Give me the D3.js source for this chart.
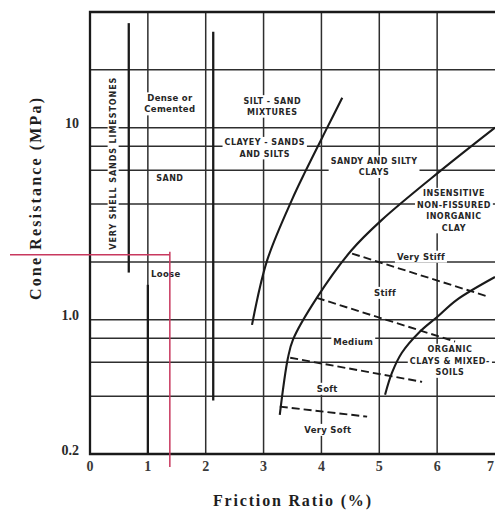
<!DOCTYPE html>
<html>
<head>
<meta charset="utf-8">
<script src="https://cdn.jsdelivr.net/npm/d3@7"></script>
<style>
  html, body { margin: 0; padding: 0; background: #fff; }
  svg { display: block; }
</style>
</head>
<body>
<svg id="chart" width="495" height="512"></svg>
<script>
// ---- data -------------------------------------------------------------
const xTicks = [0, 1, 2, 3, 4, 5, 6, 7];
const yTickLabels = [
  { v: 10, t: "10" },
  { v: 1, t: "1.0" },
  { v: 0.2, t: "0.2" }
];
const gridQc = [0.4, 0.6, 0.8, 1, 2, 4, 6, 8, 10, 20];
const gridRf = [1, 2, 3, 4, 5, 6];

// soil-type boundaries: [friction ratio %, cone resistance MPa]
const sandBoundary = [[2.80, 0.94], [3.06, 2.03], [3.49, 4.21], [3.72, 5.9], [4.10, 10], [4.36, 14.3]];
const clayBoundary = [[7.0, 10.0], [6.04, 5.9], [5.04, 3.3], [4.52, 2.3], [3.92, 1.30], [3.51, 0.79], [3.42, 0.63], [3.28, 0.32]];
const organicBoundary = [[7.0, 1.67], [6.34, 1.27], [6.01, 1.04], [5.70, 0.866], [5.39, 0.673], [5.22, 0.530], [5.10, 0.407]];

// consistency breaks inside the clay zone (dashed)
const consistencyBreaks = [
  [[4.53, 2.21], [6.88, 1.32]],
  [[3.92, 1.30], [6.31, 0.77]],
  [[3.46, 0.634], [5.74, 0.475]],
  [[3.28, 0.353], [4.79, 0.313]]
];

// vertical zone dividers: friction ratio, qc range
const verticalBoundaries = [
  { rf: 0.67, lo: 1.76, hi: 35 },
  { rf: 1.0, lo: 0.2, hi: 1.52 },
  { rf: 2.13, lo: 0.38, hi: 31.6 }
];

const zoneLabels = [
  { rf: 1.38, qc: 13.3, lines: ["Dense or", "Cemented"], caps: false },
  { rf: 1.38, qc: 5.5, lines: ["SAND"], caps: true },
  { rf: 1.31, qc: 1.72, lines: ["Loose"], caps: false },
  { rf: 3.15, qc: 12.9, lines: ["SILT - SAND", "MIXTURES"], caps: true },
  { rf: 3.02, qc: 7.82, lines: ["CLAYEY - SANDS", "AND SILTS"], caps: true },
  { rf: 4.91, qc: 6.26, lines: ["SANDY AND SILTY", "CLAYS"], caps: true },
  { rf: 6.29, qc: 3.70, lines: ["INSENSITIVE", "NON-FISSURED", "INORGANIC", "CLAY"], caps: true },
  { rf: 5.72, qc: 2.13, lines: ["Very Stiff"], caps: false },
  { rf: 5.10, qc: 1.38, lines: ["Stiff"], caps: false },
  { rf: 4.55, qc: 0.768, lines: ["Medium"], caps: false },
  { rf: 6.22, qc: 0.611, lines: ["ORGANIC", "CLAYS & MIXED-", "SOILS"], caps: true },
  { rf: 4.10, qc: 0.437, lines: ["Soft"], caps: false },
  { rf: 4.11, qc: 0.267, lines: ["Very Soft"], caps: false }
];
const verticalLabel = { rf: 0.40, qc: 6.49, text: "VERY SHELL SANDS LIMESTONES" };

// reading marked on the chart
const readout = { rf: 1.38, qc: 2.18 };

// ---- layout -----------------------------------------------------------
const svg = d3.select("#chart");
const x = d3.scaleLinear().domain([0, 7]).range([90, 495]);
const y = d3.scaleLog().domain([0.2, 40]).range([454, 12]);
const ink = "#1a1a1a";
const labelInk = "#262626";

const plot = svg.append("g");

// grid
plot.append("g").selectAll("line").data(gridQc).join("line")
  .attr("x1", x(0)).attr("x2", x(7))
  .attr("y1", d => y(d)).attr("y2", d => y(d))
  .attr("stroke", "#2e2e2e").attr("stroke-width", 1.5);
plot.append("g").selectAll("line").data(gridRf).join("line")
  .attr("x1", d => x(d)).attr("x2", d => x(d))
  .attr("y1", y(0.2)).attr("y2", y(40))
  .attr("stroke", "#2e2e2e").attr("stroke-width", 1.5);

// frame
plot.append("path")
  .attr("d", `M${x(7)},${y(40)}H${x(0)}V${y(0.2)}H${x(7)}`)
  .attr("fill", "none").attr("stroke", ink).attr("stroke-width", 2.3);

// zone labels, each on a white patch so the grid breaks behind the lettering
const labelG = plot.append("g");
function knockOut(textSel, pad) {
  const b = textSel.node().getBBox();
  labelG.insert("rect", () => textSel.node())
    .attr("x", b.x - pad).attr("y", b.y + 1 - pad)
    .attr("width", b.width + 2 * pad).attr("height", b.height - 2 + 2 * pad)
    .attr("transform", textSel.attr("transform"))
    .attr("fill", "#fff");
}
zoneLabels.forEach(L => {
  const lh = L.caps ? 11.5 : 11;
  const n = L.lines.length;
  const t = labelG.append("text")
    .attr("text-anchor", "middle")
    .attr("font-family", "'DejaVu Sans', sans-serif")
    .attr("font-weight", "bold")
    .attr("font-size", L.caps ? 8 : 8.5)
    .attr("letter-spacing", L.caps ? 0.5 : 0.3)
    .attr("fill", labelInk)
    .attr("dominant-baseline", "central");
  L.lines.forEach((s, i) => {
    t.append("tspan")
      .attr("x", x(L.rf))
      .attr("y", y(L.qc) + (i - (n - 1) / 2) * lh)
      .text(s);
  });
  knockOut(t, 2);
});
const vt = labelG.append("text")
  .attr("transform", `translate(${x(verticalLabel.rf)},${y(verticalLabel.qc)}) rotate(-90)`)
  .attr("text-anchor", "middle").attr("dominant-baseline", "central")
  .attr("font-family", "'DejaVu Sans', sans-serif")
  .attr("font-weight", "bold").attr("font-size", 8)
  .attr("textLength", 172).attr("lengthAdjust", "spacing")
  .attr("fill", labelInk)
  .text(verticalLabel.text);
knockOut(vt, 2);

// boundaries
const line = d3.line().x(d => x(d[0])).y(d => y(d[1])).curve(d3.curveCatmullRom.alpha(0.5));
[sandBoundary, clayBoundary, organicBoundary].forEach(c => {
  plot.append("path").attr("d", line(c))
    .attr("fill", "none").attr("stroke", ink).attr("stroke-width", 2.1);
});
consistencyBreaks.forEach(c => {
  plot.append("path").attr("d", d3.line().x(d => x(d[0])).y(d => y(d[1]))(c))
    .attr("fill", "none").attr("stroke", ink).attr("stroke-width", 1.9)
    .attr("stroke-dasharray", "8,4");
});
plot.append("g").selectAll("line").data(verticalBoundaries).join("line")
  .attr("x1", d => x(d.rf)).attr("x2", d => x(d.rf))
  .attr("y1", d => y(d.lo)).attr("y2", d => y(d.hi))
  .attr("stroke", ink).attr("stroke-width", 2.3);

// axis tick labels
svg.append("g").selectAll("text").data(xTicks).join("text")
  .attr("x", d => d === 7 ? x(d) - 1 : x(d))
  .attr("y", y(0.2) + 12)
  .attr("text-anchor", d => d === 7 ? "end" : "middle")
  .attr("dominant-baseline", "central")
  .attr("font-family", "'Liberation Serif', serif").attr("font-size", 14)
  .attr("font-weight", "bold")
  .attr("fill", "#3a3a3a")
  .text(d => d);
svg.append("g").selectAll("text").data(yTickLabels).join("text")
  .attr("x", 79).attr("y", d => y(d.v) - 4)
  .attr("text-anchor", "end").attr("dominant-baseline", "central")
  .attr("font-family", "'Liberation Serif', serif").attr("font-weight", "bold").attr("font-size", 14)
  .attr("fill", "#2a2a2a")
  .text(d => d.t);

// axis titles
svg.append("text")
  .attr("x", 292).attr("y", 500)
  .attr("text-anchor", "middle").attr("dominant-baseline", "central")
  .attr("font-family", "'Liberation Serif', serif").attr("font-weight", "bold").attr("font-size", 16)
  .attr("textLength", 158).attr("lengthAdjust", "spacing")
  .attr("fill", "#1e1e1e")
  .text("Friction Ratio (%)");
svg.append("text")
  .attr("transform", "translate(35,199) rotate(-90)")
  .attr("text-anchor", "middle").attr("dominant-baseline", "central")
  .attr("font-family", "'Liberation Serif', serif").attr("font-weight", "bold").attr("font-size", 16)
  .attr("textLength", 202).attr("lengthAdjust", "spacing")
  .attr("fill", "#1e1e1e")
  .text("Cone Resistance (MPa)");

// readout cross-hair
const red = "#c8385e";
svg.append("line")
  .attr("x1", 10).attr("x2", x(readout.rf))
  .attr("y1", y(readout.qc)).attr("y2", y(readout.qc))
  .attr("stroke", red).attr("stroke-width", 1.5);
svg.append("line")
  .attr("x1", x(readout.rf)).attr("x2", x(readout.rf))
  .attr("y1", y(readout.qc) - 3).attr("y2", y(0.2) + 13)
  .attr("stroke", red).attr("stroke-width", 1.5);
</script>
</body>
</html>
